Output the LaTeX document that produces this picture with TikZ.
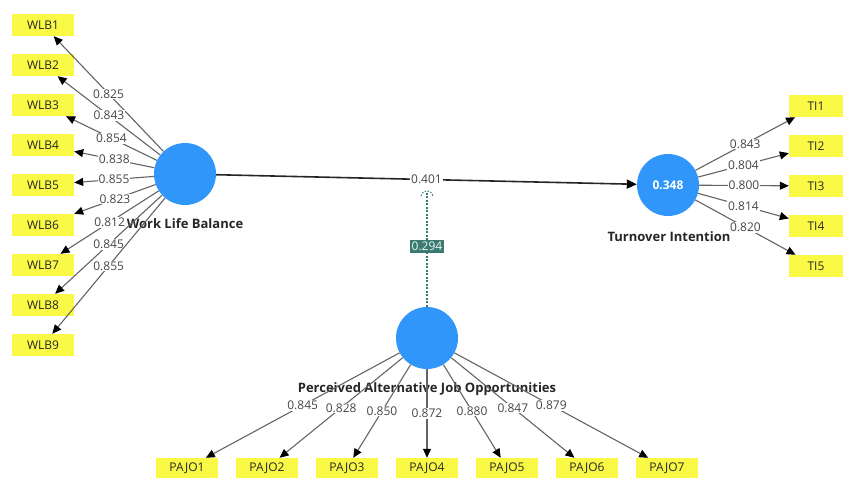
\documentclass[tikz,border=0pt]{standalone}
\usepackage{fontspec}
\setmainfont{Open Sans}
\usetikzlibrary{arrows.meta}
\definecolor{lvblue}{RGB}{49,150,250}
\definecolor{mvyellow}{RGB}{250,250,70}
\definecolor{modteal}{RGB}{45,125,118}
\definecolor{modbox}{RGB}{58,122,112}
\definecolor{lblgrey}{RGB}{70,70,70}
\definecolor{pathgrey}{RGB}{100,100,100}
\begin{document}
\begin{tikzpicture}[x=1pt,y=-1pt,
  lv/.style={circle, fill=lvblue, minimum size=62pt, inner sep=0pt},
  mvw/.style={fill=mvyellow, minimum width=62pt, minimum height=22pt, inner sep=0pt, font=\fontsize{12}{14}\selectfont, text=black!85},
  mvt/.style={mvw, minimum width=54pt},
  mvp/.style={mvw, minimum height=20pt},
  load/.style={draw=pathgrey, line width=1.1pt, -{Triangle[length=9pt,width=8pt,color=black]}},
  lw/.style={fill=white, inner sep=0.8pt, text=lblgrey, font=\fontsize{12}{14}\selectfont},
  lvname/.style={font=\bfseries\fontsize{13}{15}\selectfont, text=black!85},
  struct/.style={draw=black!85, line width=1.6pt, -{Triangle[length=10pt,width=9pt,color=black]}},
  modline/.style={draw=modteal, line width=1.4pt, dash pattern=on 2pt off 1.5pt},
  modlbl/.style={fill=modbox, text=white!92!modbox, inner sep=2pt, font=\fontsize{12}{14}\selectfont}
]
\useasboundingbox (0,0) rectangle (844,477);

% latent variables
\node[lv] (wlb) at (185,174) {};
\node[lv, text=white, font=\bfseries\fontsize{12}{14}\selectfont] (ti) at (668,185) {0.348};
\node[lv] (pajo) at (427,338) {};

% latent names
\node[lvname] (wlbname) at (185,224) {Work Life Balance};
\node[lvname] (tiname) at (669,237) {Turnover Intention};
\node[lvname] (pajoname) at (427,389) {Perceived Alternative Job Opportunities};

% indicators
\foreach \i in {1,...,9}{
  \node[mvw] (wlb\i) at (43,{25+40*(\i-1)}) {WLB\i};
}
\foreach \i in {1,...,5}{
  \node[mvt] (ti\i) at (816,{106+40*(\i-1)}) {TI\i};
}
\foreach \i in {1,...,7}{
  \node[mvp] (pajo\i) at ({187+80*(\i-1)},468) {PAJO\i};
}

% outer loadings WLB
\foreach \i/\v in {1/0.825,2/0.843,3/0.854,4/0.838,5/0.855,6/0.823,7/0.812,8/0.845,9/0.855}{
  \draw[load] (wlb) -- node[lw]{\v} (wlb\i);
}
% outer loadings TI
\foreach \i/\v in {1/0.843,2/0.804,3/0.800,4/0.814,5/0.820}{
  \draw[load] (ti) -- node[lw]{\v} (ti\i);
}
% outer loadings PAJO
\foreach \i/\v in {1/0.845,2/0.828,3/0.850,4/0.872,5/0.880,6/0.847,7/0.879}{
  \draw[load] (pajo) -- node[lw]{\v} (pajo\i);
}

% structural path
\draw[struct] (wlb) -- node[lw]{0.401} (ti);

% moderating effect
\coordinate (modend) at (427,193);
\draw[modline] (pajo) -- node[modlbl, pos=0.53]{0.294} (modend);
\draw[modteal, line width=1pt, dash pattern=on 1.5pt off 1.5pt] (421,196) .. controls (423,189) and (431,189) .. (433,196);
\end{tikzpicture}
\end{document}
